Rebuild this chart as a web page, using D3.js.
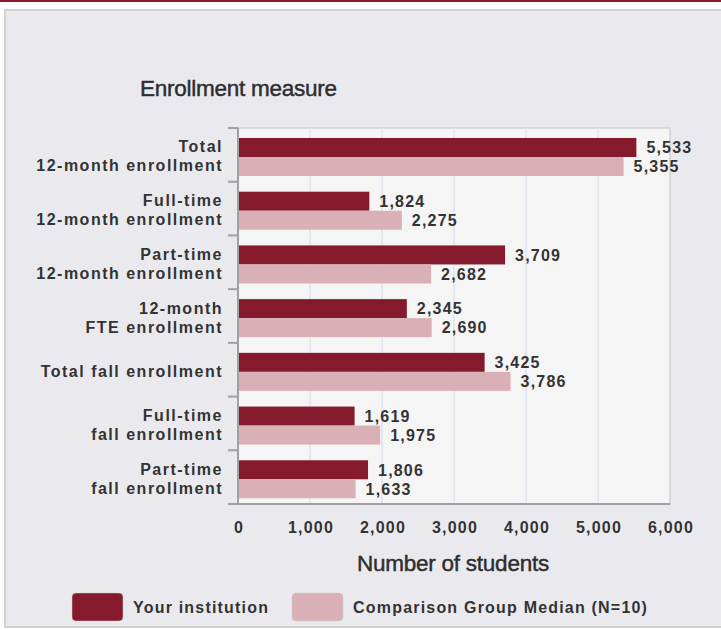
<!DOCTYPE html>
<html>
<head>
<meta charset="utf-8">
<script src="https://cdn.jsdelivr.net/npm/d3@7"></script>
<style>
  body { margin: 0; background: #fff; }
  text { font-family: "Liberation Sans", Arial, sans-serif; fill: #333; }
  .lbl { font-size: 16px; font-weight: bold; letter-spacing: 1.2px; }
  .cat { letter-spacing: 1.5px; }
  .big { font-size: 22.5px; letter-spacing: -0.25px; fill: #2e2e2e; stroke: #2e2e2e; stroke-width: 0.45px; }
</style>
</head>
<body>
<svg width="721" height="630"></svg>
<script>
// categories (two text lines each) and series values
var categories = [
  ["Total", "12-month enrollment"],
  ["Full-time", "12-month enrollment"],
  ["Part-time", "12-month enrollment"],
  ["12-month", "FTE enrollment"],
  ["Total fall enrollment"],
  ["Full-time", "fall enrollment"],
  ["Part-time", "fall enrollment"]
];
var yourInstitution = [5533, 1824, 3709, 2345, 3425, 1619, 1806];
var comparisonMedian = [5355, 2275, 2682, 2690, 3786, 1975, 1633];
var seriesNames = ["Your institution", "Comparison Group Median (N=10)"];
var seriesColors = ["#841a2c", "#d8b0b6"];
var xTicks = [0, 1000, 2000, 3000, 4000, 5000, 6000];

var svg = d3.select("svg");

// page frame
svg.append("rect").attr("x", 0).attr("y", 0).attr("width", 721).attr("height", 2).attr("fill", "#8b1a2e");
svg.append("rect").attr("x", 5).attr("y", 10).attr("width", 740).attr("height", 617)
   .attr("fill", "#eaeaee").attr("stroke", "#d2d2d4").attr("stroke-width", 2);

var plotL = 238, plotR = 670, plotT = 128, plotB = 504;

var scaleX = d3.scaleLinear().domain([0, 6000]).range([plotL, plotR]);
var idx = d3.range(categories.length);
var scaleY = d3.scaleBand().domain(idx).range([plotT, plotB]).padding(0);
var bw = scaleY.bandwidth();
var scaleS = d3.scaleBand().domain([0, 1]).range([bw * 0.186, bw * 0.894]).padding(0);

var data = idx.map(function(i) {
  return { i: i, values: [yourInstitution[i], comparisonMedian[i]] };
});

// plot background
svg.append("rect").attr("x", plotL).attr("y", plotT)
   .attr("width", plotR - plotL).attr("height", plotB - plotT)
   .attr("fill", "#f5f5f5").attr("stroke", "#d0d2d8").attr("stroke-width", 1.5);

// gridlines
svg.append("g").selectAll("line")
   .data(xTicks.slice(1, -1))
   .enter().append("line")
   .attr("x1", function(d) { return scaleX(d); })
   .attr("x2", function(d) { return scaleX(d); })
   .attr("y1", plotT).attr("y2", plotB)
   .attr("stroke", "#dde2ee").attr("stroke-width", 1.5);

// bars
var groups = svg.append("g").selectAll("g")
   .data(data).enter().append("g")
   .attr("transform", function(d) { return "translate(0," + scaleY(d.i) + ")"; });

groups.selectAll("rect")
   .data(function(d) { return d.values; })
   .enter().append("rect")
   .attr("x", scaleX(0))
   .attr("y", function(d, j) { return scaleS(j); })
   .attr("width", function(d) { return scaleX(d) - scaleX(0); })
   .attr("height", scaleS.bandwidth())
   .attr("fill", function(d, j) { return seriesColors[j]; });

groups.selectAll("text")
   .data(function(d) { return d.values; })
   .enter().append("text")
   .attr("class", "lbl")
   .attr("x", function(d) { return scaleX(d) + 10; })
   .attr("y", function(d, j) { return scaleS(j) + scaleS.bandwidth() / 2; })
   .attr("dy", "0.36em")
   .text(function(d) { return d3.format(",")(d); });

// left axis line + boundary ticks
svg.append("line").attr("x1", plotL).attr("x2", plotL).attr("y1", plotT).attr("y2", plotB)
   .attr("stroke", "#a0a0a4").attr("stroke-width", 2);
svg.append("line").attr("x1", plotL - 10).attr("x2", plotR).attr("y1", plotB).attr("y2", plotB)
   .attr("stroke", "#a0a0a4").attr("stroke-width", 2);
svg.append("g").selectAll("line")
   .data(idx)
   .enter().append("line")
   .attr("x1", plotL - 10).attr("x2", plotL)
   .attr("y1", function(d) { return scaleY(d); })
   .attr("y2", function(d) { return scaleY(d); })
   .attr("stroke", "#a0a0a4").attr("stroke-width", 2);

// category labels
var catG = svg.append("g").selectAll("text")
   .data(idx).enter().append("text")
   .attr("class", "lbl cat")
   .attr("text-anchor", "end")
   .attr("y", function(d) { return scaleY(d) + bw / 2 + 1.5; });
catG.selectAll("tspan")
   .data(function(d) { return categories[d].map(function(t, k) { return { t: t, k: k, n: categories[d].length }; }); })
   .enter().append("tspan")
   .attr("x", 223)
   .attr("dy", function(d) { return d.k === 0 ? ((-(d.n - 1) * 19 / 2) + 5.5) + "px" : "19px"; })
   .text(function(d) { return d.t; });

// x axis tick labels
svg.append("g").selectAll("text")
   .data(xTicks).enter().append("text")
   .attr("class", "lbl")
   .attr("text-anchor", "middle")
   .attr("x", function(d) { return scaleX(d) + 1; })
   .attr("y", 533)
   .text(function(d) { return d3.format(",")(d); });

// titles
svg.append("text").attr("class", "big").attr("x", 140).attr("y", 96).text("Enrollment measure");
svg.append("text").attr("class", "big").attr("text-anchor", "middle")
   .attr("x", 453).attr("y", 571).text("Number of students");

// legend
var legendX = [72, 292];
var leg = svg.append("g").selectAll("g")
   .data(seriesNames).enter().append("g")
   .attr("transform", function(d, i) { return "translate(" + legendX[i] + ",593)"; });
leg.append("rect").attr("width", 51).attr("height", 28).attr("rx", 4)
   .attr("fill", function(d, i) { return seriesColors[i]; })
   .attr("stroke", "#ccc").attr("stroke-width", 0.5);
leg.append("text").attr("class", "lbl").attr("x", 61).attr("y", 14).attr("dy", "0.36em")
   .text(function(d) { return d; });
</script>
</body>
</html>
